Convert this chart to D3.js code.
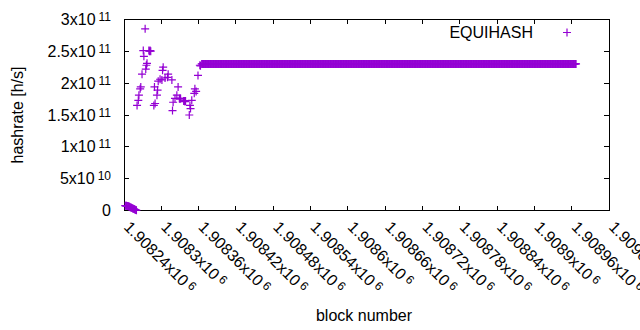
<!DOCTYPE html>
<html>
<head>
<meta charset="utf-8">
<script src="https://cdn.jsdelivr.net/npm/d3@7"></script>
<style>
  body { margin: 0; background: #fff; }
  svg { display: block; font-family: "Liberation Sans", Arial, sans-serif; }
</style>
</head>
<body>
<div id="chart"></div>
<script>
// axis ticks
const xTickStart = 1908240, xTickStep = 60, xTickCount = 14;
const xTickMantissa = ["1.90824","1.9083","1.90836","1.90842","1.90848","1.90854","1.9086",
  "1.90866","1.90872","1.90878","1.90884","1.9089","1.90896","1.90902"];
const xTickExp = "6";
const yTickValues = [0, 5e10, 1e11, 1.5e11, 2e11, 2.5e11, 3e11];
const yTickMantissa = ["0","5x10","1x10","1.5x10","2x10","2.5x10","3x10"];
const yTickExp = ["","10","11","11","11","11","11"];

// EQUIHASH hashrate, the first blocks (one per block, starting at lowStart)
const lowStart = 1908242;
const lowValues = [7.8e9,7.6e9,7.7e9,7.4e9,7.2e9,7.0e9,6.6e9,6.1e9,5.6e9,5.1e9,4.6e9,
  4.1e9,3.6e9,3.1e9,2.6e9,2.1e9,1.6e9,1.1e9,0.7e9];

// scattered section
const blocks = [1908261,1908263,1908264,1908266,1908267,1908269,1908271,1908272,1908274,
  1908275,1908276,1908277,1908280,1908281,1908282,1908283,1908288,1908289,1908290,1908293,
  1908294,1908295,1908298,1908301,1908302,1908303,1908306,1908310,1908311,1908317,1908318,
  1908319,1908322,1908325,1908327,1908329,1908330,1908331,1908336,1908337,1908338,1908339,
  1908345,1908346,1908347,1908349,1908353,1908354,1908356,1908359,1908362,1908363];
const hashrate = [1.65e11,1.73e11,1.81e11,1.91e11,1.94e11,2.14e11,2.51e11,2.42e11,2.85e11,
  2.22e11,2.28e11,2.31e11,2.51e11,2.50e11,2.51e11,2.50e11,1.65e11,1.94e11,1.68e11,1.81e11,
  1.89e11,2.03e11,2.06e11,2.05e11,2.20e11,2.25e11,2.08e11,2.09e11,2.14e11,2.05e11,1.57e11,
  1.70e11,1.76e11,1.81e11,1.94e11,1.76e11,1.75e11,1.76e11,1.72e11,1.72e11,1.71e11,1.72e11,
  1.50e11,1.65e11,1.60e11,1.73e11,1.84e11,1.91e11,1.87e11,2.12e11,2.28e11,2.27e11];

// constant run at the end
const flatStart = 1908365, flatEnd = 1908967, flatValue = 2.30e11;

const W = 640, H = 330;
const svg = d3.select("#chart").append("svg")
  .attr("width", W).attr("height", H);

const x = d3.scaleLinear()
  .domain([xTickStart, xTickStart + xTickStep * (xTickCount - 1)])
  .range([124, 609]);
const y = d3.scaleLinear().domain([0, 3e11]).range([210.7, 19.3]);

const points = [];
lowValues.forEach((v, i) => points.push([lowStart + i, v]));
blocks.forEach((b, i) => points.push([b, hashrate[i]]));
d3.range(flatStart, flatEnd + 1).forEach(b => points.push([b, flatValue]));

const color = "#9400d3";
const plus = "M-4,0H4M0,-4V4";
const fs = 16, sup = 12;

// border
svg.append("rect")
  .attr("x", x.range()[0]).attr("y", y.range()[1])
  .attr("width", x.range()[1] - x.range()[0])
  .attr("height", y.range()[0] - y.range()[1])
  .attr("fill", "none").attr("stroke", "#000").attr("stroke-width", 1)
  .attr("shape-rendering", "crispEdges");

const xTicks = d3.range(xTickCount).map(i => xTickStart + i * xTickStep);
const tk = 5;

// ticks (mirrored on top / right)
const tg = svg.append("g").attr("stroke", "#000").attr("shape-rendering", "crispEdges");
xTicks.forEach(t => {
  tg.append("line").attr("x1", x(t)).attr("x2", x(t)).attr("y1", y(0)).attr("y2", y(0) - tk);
  tg.append("line").attr("x1", x(t)).attr("x2", x(t)).attr("y1", y(3e11)).attr("y2", y(3e11) + tk);
});
yTickValues.forEach(t => {
  tg.append("line").attr("x1", x.range()[0]).attr("x2", x.range()[0] + tk).attr("y1", y(t)).attr("y2", y(t));
  tg.append("line").attr("x1", x.range()[1]).attr("x2", x.range()[1] - tk).attr("y1", y(t)).attr("y2", y(t));
});

// y tick labels
yTickValues.forEach((t, i) => {
  const txt = svg.append("text")
    .attr("x", 111).attr("y", y(t) + 5.5)
    .attr("text-anchor", "end")
    .attr("font-size", fs).attr("fill", "#000");
  txt.append("tspan").text(yTickMantissa[i]);
  if (yTickExp[i]) {
    txt.append("tspan").attr("dx", 3).attr("dy", -4).attr("font-size", sup).text(yTickExp[i]);
  }
});

// x tick labels, rotated
xTicks.forEach((t, i) => {
  const txt = svg.append("text")
    .attr("transform", `translate(${x(t) - 1},${228}) rotate(45)`)
    .attr("font-size", fs).attr("fill", "#000");
  txt.append("tspan").text(xTickMantissa[i] + "x10");
  txt.append("tspan").attr("dx", 3).attr("dy", -4).attr("font-size", sup).text(xTickExp);
});

// axis titles
svg.append("text")
  .attr("transform", `translate(23,${(y.range()[0] + y.range()[1]) / 2}) rotate(-90)`)
  .attr("text-anchor", "middle").attr("font-size", fs).text("hashrate [h/s]");
svg.append("text")
  .attr("x", 364).attr("y", 321)
  .attr("text-anchor", "middle").attr("font-size", fs).text("block number");

// points
svg.append("g")
  .selectAll("path")
  .data(points)
  .join("path")
    .attr("d", plus)
    .attr("transform", d => `translate(${x(d[0])},${y(d[1])})`)
    .attr("fill", "none")
    .attr("stroke", color)
    .attr("stroke-width", 1.2);

// legend
svg.append("text")
  .attr("x", 533).attr("y", 38)
  .attr("text-anchor", "end").attr("font-size", fs).text("EQUIHASH");
svg.append("path")
  .attr("d", plus)
  .attr("transform", "translate(567,32.5)")
  .attr("fill", "none").attr("stroke", color).attr("stroke-width", 1.2);
</script>
</body>
</html>
